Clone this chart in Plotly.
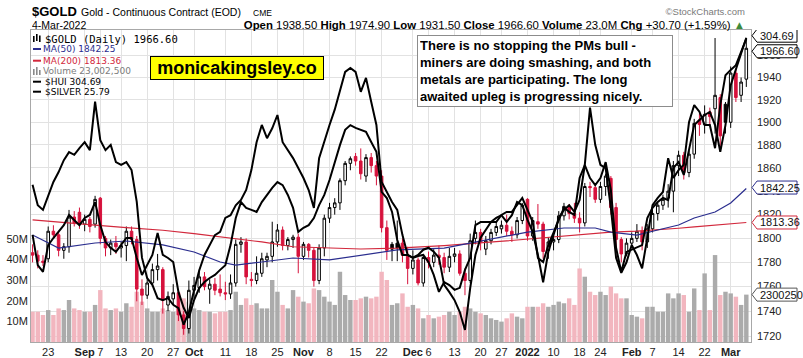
import math
import pandas as pd
import plotly.graph_objects as go

# ---------------- data ----------------
HOLIDAYS = ["2021-09-06", "2021-11-25", "2021-12-24", "2022-01-17", "2022-02-21"]
dates = [d.strftime("%Y-%m-%d") for d in
         pd.bdate_range("2021-08-18", "2022-03-04", freq="C", holidays=HOLIDAYS)]

opens = [1788, 1786, 1781, 1783, 1806, 1803, 1790, 1793, 1818, 1822,
         1812, 1816, 1812, 1834, 1800, 1792, 1796, 1792, 1794, 1806,
         1799, 1758, 1753, 1763, 1774, 1774, 1745, 1750, 1755, 1737,
         1726, 1757, 1759, 1768, 1758, 1762, 1758, 1755, 1754, 1763,
         1795, 1797, 1766, 1765, 1771, 1782, 1785, 1797, 1807, 1794,
         1799, 1801, 1785, 1795, 1790, 1765, 1792, 1817, 1826, 1830,
         1849, 1864, 1870, 1866, 1853, 1869, 1862, 1853, 1809, 1795,
         1796, 1796, 1786, 1775, 1782, 1763, 1784, 1780, 1786, 1784,
         1776, 1785, 1787, 1771, 1765, 1800, 1805, 1791, 1798, 1805,
         1808, 1811, 1806, 1803, 1815, 1833, 1802, 1814, 1812, 1790,
         1797, 1799, 1819, 1827, 1821, 1817, 1813, 1844, 1843, 1833,
         1844, 1851, 1826, 1799, 1787, 1796, 1800, 1806, 1797, 1808,
         1821, 1828, 1834, 1840, 1862, 1871, 1856, 1872, 1902, 1898,
         1909, 1912, 1922, 1916, 1900, 1944, 1924, 1938.5]
highs = [1795, 1790, 1786, 1810, 1811, 1806, 1796, 1824, 1823, 1826,
         1820, 1818, 1836, 1835, 1802, 1799, 1802, 1797, 1810, 1810,
         1802, 1766, 1766, 1779, 1787, 1776, 1756, 1762, 1758, 1740,
         1765, 1768, 1774, 1772, 1766, 1767, 1770, 1764, 1770, 1799,
         1801, 1800, 1772, 1785, 1788, 1788, 1814, 1812, 1810, 1801,
         1803, 1804, 1797, 1796, 1792, 1795, 1820, 1830, 1834, 1851,
         1866, 1870, 1873, 1877, 1872, 1873, 1866, 1858, 1815, 1797,
         1815, 1800, 1793, 1790, 1784, 1787, 1789, 1791, 1794, 1788,
         1792, 1792, 1790, 1775, 1804, 1815, 1808, 1802, 1808, 1814,
         1815, 1820, 1810, 1818, 1830, 1834, 1818, 1829, 1814, 1801,
         1803, 1823, 1830, 1829, 1830, 1822, 1847, 1848, 1846, 1848,
         1855, 1853, 1830, 1801, 1800, 1805, 1812, 1810, 1812, 1824,
         1830, 1837, 1846, 1866, 1875, 1874, 1875, 1903, 1908, 1915,
         1913, 1976, 1925, 1918, 1950, 1948, 1940, 1974.9]
lows = [1780, 1775, 1777, 1780, 1800, 1785, 1783, 1788, 1810, 1808,
        1806, 1805, 1809, 1795, 1785, 1786, 1787, 1784, 1781, 1795,
        1748, 1745, 1750, 1760, 1765, 1738, 1740, 1745, 1732, 1721,
        1722, 1750, 1755, 1757, 1746, 1753, 1752, 1749, 1750, 1760,
        1788, 1762, 1760, 1762, 1768, 1776, 1780, 1793, 1790, 1790,
        1792, 1771, 1782, 1784, 1760, 1762, 1785, 1813, 1820, 1824,
        1845, 1858, 1862, 1850, 1848, 1856, 1845, 1805, 1782, 1781,
        1781, 1780, 1762, 1770, 1761, 1760, 1775, 1776, 1778, 1771,
        1772, 1780, 1769, 1753, 1763, 1795, 1790, 1786, 1795, 1802,
        1804, 1802, 1797, 1800, 1812, 1798, 1798, 1808, 1783, 1783,
        1790, 1796, 1815, 1816, 1813, 1805, 1810, 1835, 1830, 1830,
        1836, 1820, 1792, 1780, 1785, 1792, 1797, 1790, 1792, 1805,
        1815, 1824, 1826, 1822, 1853, 1850, 1852, 1868, 1888, 1890,
        1898, 1890, 1878, 1890, 1895, 1918, 1918, 1931.5]
closes = [1786, 1781, 1780, 1806, 1803, 1790, 1793, 1818, 1813, 1812,
          1816, 1810, 1833, 1800, 1792, 1796, 1793, 1794, 1806, 1799,
          1758, 1753, 1763, 1774, 1777, 1749, 1752, 1755, 1737, 1726,
          1757, 1761, 1768, 1760, 1762, 1757, 1755, 1754, 1763, 1795,
          1797, 1768, 1765, 1771, 1783, 1785, 1797, 1807, 1794, 1799,
          1801, 1785, 1795, 1790, 1765, 1792, 1817, 1826, 1830, 1849,
          1864, 1868, 1866, 1855, 1869, 1862, 1853, 1809, 1790, 1791,
          1792, 1786, 1775, 1782, 1763, 1784, 1780, 1786, 1784, 1776,
          1785, 1787, 1771, 1765, 1798, 1805, 1797, 1798, 1805, 1810,
          1811, 1806, 1803, 1815, 1828, 1802, 1815, 1812, 1789, 1797,
          1799, 1819, 1827, 1821, 1817, 1813, 1844, 1843, 1833, 1844,
          1853, 1826, 1799, 1787, 1796, 1800, 1806, 1797, 1808, 1821,
          1828, 1833, 1840, 1862, 1871, 1856, 1872, 1899, 1898, 1907,
          1905, 1924, 1888, 1900, 1944, 1922, 1935.9, 1966.6]
volume_m = [14.7, 14.7, 13.1, 15.5, 13.1, 16.3, 15.5, 20.4, 16.3, 15.5,
            14.7, 14.7, 18.0, 25.2, 16.3, 15.5, 16.3, 14.7, 18.8, 17.1,
            24.4, 19.6, 16.3, 14.7, 14.7, 16.3, 15.5, 14.7, 16.3, 21.2,
            19.6, 16.3, 15.5, 14.7, 14.7, 13.9, 14.7, 14.7, 15.5, 24.4,
            18.0, 21.2, 18.0, 18.8, 16.3, 16.3, 30.1, 24.4, 18.0, 16.3,
            25.2, 22.0, 19.6, 18.8, 26.0, 25.2, 22.0, 19.6, 18.0, 34.1,
            22.8, 20.4, 20.4, 21.2, 22.0, 21.2, 22.0, 34.1, 30.1, 18.0,
            18.8, 23.6, 17.1, 18.0, 16.3, 11.5, 13.1, 11.5, 12.3, 13.1,
            14.7, 13.1, 14.7, 17.1, 16.3, 14.7, 13.9, 13.1, 11.5, 10.7,
            9.9, 11.5, 13.9, 12.3, 11.5, 17.1, 17.1, 17.1, 18.8, 17.1,
            18.0, 19.6, 18.8, 21.2, 18.0, 35.7, 31.7, 24.4, 22.8, 24.4,
            22.8, 26.9, 23.6, 21.2, 21.2, 13.1, 12.3, 11.5, 17.1, 17.1,
            14.7, 14.7, 23.6, 21.2, 23.6, 22.8, 14.7, 26.0, 15.5, 33.3,
            15.5, 42.2, 22.8, 24.4, 23.6, 22.0, 18.0, 23.0025]
silver = [23.59, 23.28, 23.21, 23.43, 23.63, 23.78, 23.96, 24.08, 24.04, 24.14,
          24.23, 24.11, 24.84, 24.26, 24.11, 24.19, 23.93, 23.89, 23.93, 23.81,
          23.33, 22.49, 22.18, 22.08, 21.88, 21.85, 21.88, 21.78, 21.73, 21.48,
          21.67, 22.00, 22.30, 22.53, 22.68, 22.83, 22.88, 23.09, 23.13, 23.28,
          23.36, 23.51, 23.81, 24.23, 24.49, 24.29, 24.44, 24.64, 24.23, 24.11,
          23.99, 23.84, 23.69, 23.51, 23.24, 23.99, 24.26, 24.49, 24.72, 24.99,
          25.29, 25.35, 25.29, 24.99, 25.20, 24.84, 24.49, 23.63, 23.48, 23.33,
          23.21, 22.83, 22.53, 22.49, 22.53, 22.61, 22.64, 22.58, 22.49, 22.08,
          21.97, 21.85, 21.67, 21.40, 22.03, 22.53, 22.79, 22.91, 23.03, 23.09,
          23.13, 23.03, 23.13, 23.33, 23.28, 23.06, 22.88, 22.53, 22.12, 22.58,
          22.83, 23.09, 23.21, 23.28, 23.18, 23.36, 23.89, 24.75, 24.19, 23.89,
          23.84, 23.24, 22.49, 22.26, 22.42, 22.68, 22.53, 22.33, 22.79, 23.28,
          23.39, 23.48, 23.99, 23.69, 23.81, 23.89, 24.53, 24.79, 24.69, 24.49,
          24.49, 24.14, 24.79, 25.24, 25.32, 25.39, 25.59, 25.79]
hui = [246.5, 237.6, 235.6, 243.5, 245.6, 247.4, 249.4, 252.4, 250.9, 249.4,
       251.5, 252.4, 256.2, 249.4, 244.4, 242.7, 241.5, 243.5, 245.6, 245.6,
       239.7, 234.7, 237.6, 240.6, 247.1, 240.6, 239.7, 238.5, 229.7, 225.0,
       222.0, 227.3, 230.9, 232.6, 233.8, 234.7, 236.2, 237.6, 243.5, 251.5,
       256.2, 254.5, 253.9, 253.3, 256.2, 258.3, 260.4, 262.1, 261.2, 258.3,
       254.5, 247.4, 248.6, 249.4, 251.5, 255.3, 258.3, 262.7, 268.0, 273.0,
       277.5, 278.9, 278.1, 277.5, 276.9, 273.9, 271.0, 259.2, 257.4, 253.3,
       245.0, 240.6, 240.6, 239.7, 240.3, 240.6, 238.5, 234.7, 229.7, 232.6,
       231.7, 230.3, 230.9, 236.2, 239.7, 249.4, 250.3, 250.3, 250.3, 250.3,
       252.4, 253.3, 253.3, 255.3, 257.4, 253.9, 250.3, 239.7, 238.5, 243.5,
       247.4, 250.9, 254.5, 253.3, 252.4, 263.3, 267.1, 263.3, 261.2, 263.3,
       268.0, 259.8, 242.7, 235.6, 241.5, 242.1, 242.7, 243.5, 251.5, 254.5,
       256.2, 257.4, 256.8, 266.3, 268.0, 264.2, 271.6, 278.9, 280.4, 281.9,
       282.8, 278.9, 271.0, 278.9, 290.7, 295.2, 299.6, 304.69]

ma_dates = ["2021-08-18", "2021-08-25", "2021-09-03", "2021-09-14", "2021-09-23",
            "2021-10-01", "2021-10-08", "2021-10-13", "2021-10-20", "2021-10-28",
            "2021-11-08", "2021-11-16", "2021-11-26", "2021-12-09", "2021-12-23",
            "2022-01-03", "2022-01-12", "2022-01-21", "2022-01-26", "2022-02-02",
            "2022-02-08", "2022-02-14", "2022-02-17", "2022-02-24", "2022-03-01",
            "2022-03-04"]
ma50 = [1802.8, 1791.9, 1796.1, 1797.8, 1794.5, 1788.6, 1780.3, 1777.8, 1780.3, 1783.6,
        1782.0, 1786.1, 1790.3, 1791.9, 1800.3, 1805.3, 1808.7, 1808.7, 1805.3, 1802.8,
        1807.0, 1811.2, 1817.2, 1822.2, 1829.9, 1842.25]
ma200 = [1815.5, 1813.5, 1811.2, 1809.0, 1806.8, 1804.0, 1801.5, 1800.0, 1797.0, 1793.0,
         1792.0, 1791.1, 1791.9, 1794.0, 1797.2, 1799.5, 1802.0, 1804.5, 1805.2, 1806.0,
         1807.0, 1808.5, 1809.7, 1811.2, 1812.3, 1813.36]

tick_dates = ["2021-08-23", "2021-09-01", "2021-09-07", "2021-09-13", "2021-09-20",
              "2021-09-27", "2021-10-01", "2021-10-11", "2021-10-18", "2021-10-25",
              "2021-11-01", "2021-11-08", "2021-11-15", "2021-11-22", "2021-12-01",
              "2021-12-06", "2021-12-13", "2021-12-20", "2021-12-27", "2022-01-03",
              "2022-01-10", "2022-01-18", "2022-01-24", "2022-02-01", "2022-02-07",
              "2022-02-14", "2022-02-22", "2022-03-01"]
tick_text = ["23", "<b>Sep</b>", "7", "13", "20", "27", "<b>Oct</b>", "11", "18", "25",
             "<b>Nov</b>", "8", "15", "22", "<b>Dec</b>", "6", "13", "20", "27",
             "<b>2022</b>", "10", "18", "24", "<b>Feb</b>", "7", "14", "22", "<b>Mar</b>"]
price_ticks = [1720, 1740, 1760, 1780, 1800, 1820, 1840, 1860, 1880, 1900, 1920, 1940, 1960]
vol_ticks = [10, 20, 30, 40, 50]
vol_tick_text = ["10M", "20M", "30M", "40M", "50M"]

# ---------------- styles ----------------
RED = "#d6123c"
PINK = "#f2b6bf"
GRAY = "#ababab"
BLUE = "#2a2d8e"
MA_RED = "#d2283c"
FONT = "Liberation Sans, Arial, sans-serif"
LFONT = "DejaVu Sans, Verdana, sans-serif"
MFONT = "DejaVu Sans Mono, Liberation Mono, monospace"
GRID = "#e2e2e2"

n = len(dates)
assert all(len(a) == n for a in (opens, highs, lows, closes, volume_m, silver, hui))

PLOT_L, PLOT_R, PLOT_T, PLOT_B = 31, 751, 30, 342


def px_x(x):
    return (x - PLOT_L) / (PLOT_R - PLOT_L)


def px_y(y):
    return (PLOT_B - y) / (PLOT_B - PLOT_T)


fig = go.Figure()

# volume (main axis, drawn below everything)
ups = []
for i in range(n):
    prev = closes[i - 1] if i > 0 else opens[i]
    ups.append(closes[i] >= prev)
fig.add_trace(go.Bar(
    x=dates, y=volume_m, yaxis="y",
    marker=dict(color=[GRAY if u else PINK for u in ups], line=dict(width=0)),
    hoverinfo="skip", showlegend=False))

# candles: colour by change vs previous close, fill by close vs open
for up_flag, hollow_flag in [(True, True), (False, False), (False, True), (True, False)]:
    idx = [i for i in range(n) if ups[i] == up_flag and (closes[i] >= opens[i]) == hollow_flag]
    if not idx:
        continue
    col = "black" if up_flag else RED
    fill = "white" if hollow_flag else col
    style = dict(line=dict(color=col, width=1), fillcolor=fill)
    fig.add_trace(go.Candlestick(
        x=[dates[i] for i in idx],
        open=[opens[i] for i in idx], high=[highs[i] for i in idx],
        low=[lows[i] for i in idx], close=[closes[i] for i in idx],
        increasing=style, decreasing=style, whiskerwidth=0,
        yaxis="y2", hoverinfo="skip", showlegend=False))

fig.add_trace(go.Scatter(x=ma_dates, y=ma200, mode="lines", yaxis="y2",
                         line=dict(color=MA_RED, width=1.2), hoverinfo="skip", showlegend=False))
fig.add_trace(go.Scatter(x=ma_dates, y=ma50, mode="lines", yaxis="y2",
                         line=dict(color=BLUE, width=1.2), hoverinfo="skip", showlegend=False))
fig.add_trace(go.Scatter(x=dates, y=silver, mode="lines", yaxis="y3",
                         line=dict(color="black", width=2), hoverinfo="skip", showlegend=False))
fig.add_trace(go.Scatter(x=dates, y=hui, mode="lines", yaxis="y4",
                         line=dict(color="black", width=2), hoverinfo="skip", showlegend=False))

tickfont = dict(family=FONT, size=11, color="#222222")

fig.update_layout(
    width=803, height=358,
    margin=dict(l=PLOT_L, r=803 - PLOT_R, t=PLOT_T, b=358 - PLOT_B),
    paper_bgcolor="white", plot_bgcolor="white",
    showlegend=False, hovermode=False, bargap=0.15,
    xaxis=dict(type="category", categoryorder="array", categoryarray=dates,
               range=[-0.3, 137.9], tickmode="array", tickvals=tick_dates, ticktext=tick_text,
               showgrid=True, gridcolor=GRID, gridwidth=1, ticks="", tickfont=tickfont,
               showline=True, linecolor="#a8a8a8", linewidth=1, mirror=True,
               rangeslider=dict(visible=False), automargin=False, zeroline=False),
    yaxis=dict(range=[0, 151.46], tickmode="array", tickvals=vol_ticks, ticktext=vol_tick_text,
               side="left", showgrid=False, zeroline=False, ticks="", tickfont=tickfont,
               showline=True, linecolor="#a8a8a8", linewidth=1, mirror=True, automargin=False),
    yaxis2=dict(type="log", overlaying="y", side="right", anchor="x",
                range=[math.log10(1715.2), math.log10(1983.4)],
                tickmode="array", tickvals=price_ticks, ticktext=[str(v) for v in price_ticks],
                showgrid=True, gridcolor=GRID, gridwidth=1, zeroline=False, ticks="",
                ticklabelstandoff=5, tickfont=tickfont, automargin=False),
    yaxis3=dict(overlaying="y", visible=False, range=[21.219, 25.921]),
    yaxis4=dict(overlaying="y", visible=False, range=[214.92, 306.96]),
)

annotations = []
shapes = []


def text(x, y, s, size, color="black", family=FONT, anchor="left", width=260):
    annotations.append(dict(xref="paper", yref="paper", x=px_x(x), y=px_y(y), text=s,
                            xanchor=anchor, yanchor="middle", showarrow=False,
                            align=anchor, width=width, borderpad=0,
                            font=dict(family=family, size=size, color=color)))


def rect(x0, y0, x1, y1, color):
    shapes.append(dict(type="rect", xref="paper", yref="paper",
                       x0=px_x(x0), x1=px_x(x1), y0=px_y(y0), y1=px_y(y1),
                       fillcolor=color, line=dict(width=0), layer="above"))


def hline(x0, x1, y, color):
    shapes.append(dict(type="line", xref="paper", yref="paper",
                       x0=px_x(x0), x1=px_x(x1), y0=px_y(y), y1=px_y(y),
                       line=dict(color=color, width=2), layer="above"))


# header
text(31, 12, "<b>$GOLD</b>", 13, width=60)
text(80, 12.5, "Gold - Continuous Contract (EOD)", 10.5, width=180)
text(252, 13.5, "CME", 8.5, width=40)
text(31, 25, "4-Mar-2022", 10.5, width=80)
text(746, 12, "©StockCharts.com", 9.5, color="#7a7a7a", anchor="right", width=120)
text(746, 25, "<b>Open</b> 1938.50 <b>High</b> 1974.90 <b>Low</b> 1931.50 "
              "<b>Close</b> 1966.60 <b>Volume</b> 23.0M <b>Chg</b> +30.70 (+1.59%) "
              "<span style='color:#3c8a3c'>▲</span>", 11.4, anchor="right", width=560)

# legend (symbols + texts)
rect(33, 36, 34.6, 42, "black")
rect(36, 34, 37.6, 41, "black")
rect(39, 35.5, 40.6, 42, "black")
text(44, 38.5, "$GOLD (Daily) 1966.60", 10.5, family=MFONT, width=160)
hline(33, 41, 49, BLUE)
text(41.5, 49, "MA(50) 1842.25", 9, color=BLUE, family=LFONT, width=120)
hline(33, 41, 60.7, MA_RED)
text(41.5, 60.7, "MA(200) 1813.36", 9, color=MA_RED, family=LFONT, width=120)
rect(33, 69, 34.6, 75, "#8a8a8a")
rect(36, 67, 37.6, 75, "#8a8a8a")
rect(39, 70, 40.6, 75, "#8a8a8a")
text(41.5, 71, "Volume 23,002,500", 9, color="#7c7c7c", family=LFONT, width=105)
hline(33, 41, 81.7, "black")
text(44, 81.7, "$HUI 304.69", 9, family=LFONT, width=100)
hline(33, 41, 91.7, "black")
text(44, 91.7, "$SILVER 25.79", 9, family=LFONT, width=100)

# watermark box
annotations.append(dict(xref="paper", yref="paper", x=px_x(150), y=px_y(56), xanchor="left",
                        yanchor="top", showarrow=False, text="<b>monicakingsley.co</b>",
                        font=dict(family=FONT, size=18, color="black"),
                        bgcolor="#ffff00", bordercolor="black", borderwidth=1, borderpad=1,
                        width=170, height=20))

# comment box
annotations.append(dict(xref="paper", yref="paper", x=px_x(417), y=px_y(35), xanchor="left",
                        yanchor="top", showarrow=False, align="left", valign="middle",
                        text="<b>There is no stopping the PMs bull -<br>"
                             "miners are doing smashing, and both<br>"
                             "metals are participating. The long<br>"
                             "awaited upleg is progressing nicely.</b>",
                        font=dict(family=FONT, size=13, color="black"),
                        bgcolor="white", bordercolor="#8c8c8c", borderwidth=1, borderpad=2,
                        width=250, height=66))


# right-side value tags
def tag(value, yref, label, color, shift=0, log=False):
    shapes.append(dict(type="path", xref="paper", yref=yref, xsizemode="pixel", ysizemode="pixel",
                       xanchor=1, yanchor=value,
                       path=(f"M 1 {shift} L 6 {shift + 6.5} L 46 {shift + 6.5} "
                             f"L 46 {shift - 6.5} L 6 {shift - 6.5} Z"),
                       line=dict(color=color, width=1), fillcolor="white", layer="above"))
    annotations.append(dict(xref="paper", yref=yref, x=1, y=math.log10(value) if log else value,
                            xanchor="left", xshift=7, yshift=shift, yanchor="middle",
                            showarrow=False, text=label,
                            font=dict(family=FONT, size=11, color="#111111")))


tag(hui[-1], "y4", "304.69", "black", shift=2)
tag(closes[-1], "y2", "1966.60", "black", shift=-3, log=True)
tag(ma50[-1], "y2", "1842.25", BLUE, shift=1, log=True)
tag(ma200[-1], "y2", "1813.36", MA_RED, log=True)
tag(volume_m[-1], "y", "2300250", "#555555")

fig.update_layout(annotations=annotations, shapes=shapes)
# remove the browser's default 8px body margin so the figure sits at the window's corner
fig.write_html("out.html", config={"displayModeBar": False},
               post_script="document.body.style.margin='0px';")
